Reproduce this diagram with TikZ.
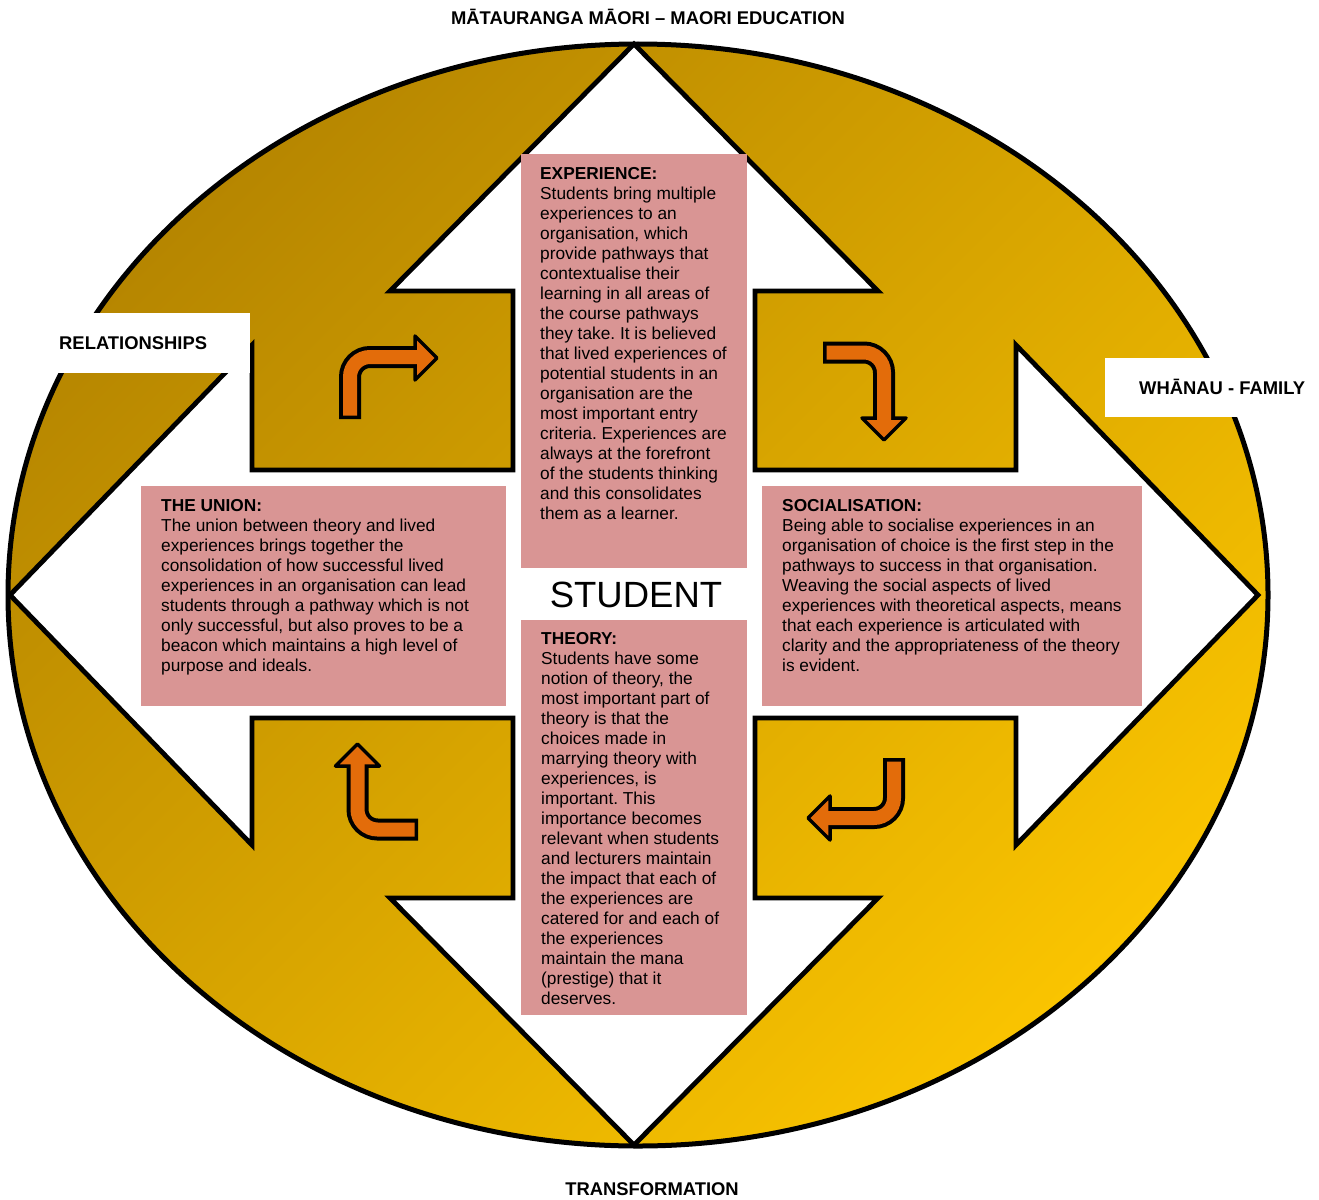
\documentclass[tikz,border=0pt]{standalone}
\usepackage{fontspec}
\setmainfont{Liberation Sans}
\frenchspacing
\definecolor{golddark}{RGB}{182,134,0}
\definecolor{goldlight}{RGB}{250,196,0}
\definecolor{notepink}{RGB}{217,149,148}
\definecolor{turnorange}{RGB}{227,108,10}

\begin{document}
\begin{tikzpicture}[x=1pt, y=-1pt,
    notebox/.style ={fill=notepink},
    notetext/.style ={anchor=north west, inner sep=0pt, align=left, font=\fontsize{17.3}{20}\selectfont},
    sidetag/.style ={fill=white, inner sep=0pt, anchor=north west},
    tagtext/.style ={anchor=base west, inner sep=0pt, font=\fontsize{18.4}{22}\selectfont\bfseries},
    turnshaft/.style ={draw=black, line width=22pt, rounded corners=20pt},
    turncore/.style ={draw=turnorange, line width=14pt, rounded corners=20pt},
    turnhead/.style ={fill=turnorange, draw=black, line width=3.5pt, line join=round}]
   \useasboundingbox (0,0) rectangle (1319,1199);

   % ring
   \shade[top color=golddark, bottom color=goldlight, shading angle=45]
     (638,595) ellipse [x radius=630pt, y radius=551pt];
   \draw[line width=5pt] (638,595) ellipse [x radius=630pt, y radius=551pt];

   % four-way arrow
   \filldraw[fill=white, line width=4.8pt] (634,44) -- (878,291) -- (755,291) -- (755,470)
     -- (1016,470) -- (1016,345) -- (1258,595) -- (1016,845) -- (1016,718) -- (755,718)
     -- (755,898) -- (878,898) -- (634,1145) -- (390,898) -- (513,898) -- (513,718)
     -- (252,718) -- (252,845) -- (10,595) -- (252,345) -- (252,470) -- (513,470)
     -- (513,291) -- (390,291) -- cycle;

   % turning arrows
   \draw[turnshaft] (350,419) -- (350,357) -- (418,357);
   \filldraw[turnhead] (415,336) -- (437,358) -- (415,380) -- cycle;
   \draw[turncore] (350,415.5) -- (350,357) -- (421,357);

   \draw[turnshaft] (823,352.5) -- (884,352.5) -- (884,421);
   \filldraw[turnhead] (862,418) -- (884,440) -- (906,418) -- cycle;
   \draw[turncore] (826.5,352.5) -- (884,352.5) -- (884,424);

   \draw[turnshaft] (894,758) -- (894,818) -- (827,818);
   \filldraw[turnhead] (830,796) -- (808,818) -- (830,840) -- cycle;
   \draw[turncore] (894,761.5) -- (894,818) -- (824,818);

   \draw[turnshaft] (418,829.5) -- (357.5,829.5) -- (357.5,763);
   \filldraw[turnhead] (335.5,766) -- (357.5,744) -- (379.5,766) -- cycle;
   \draw[turncore] (414.5,829.5) -- (357.5,829.5) -- (357.5,760);

   % notes
   \fill[notebox] (521,154) rectangle (747,568);
   \fill[notebox] (521,620) rectangle (747,1015);
   \fill[notebox] (141,486) rectangle (506,706);
   \fill[notebox] (762,486) rectangle (1142,706);

   \node[notetext] (experience) at (540,165) {\strut\textbf{EXPERIENCE:}\\
     Students bring multiple\\ experiences to an\\ organisation, which\\
     provide pathways that\\ contextualise their\\ learning in all areas of\\
     the course pathways\\ they take. It is believed\\ that lived experiences of\\
     potential students in an\\ organisation are the\\ most important entry\\
     criteria. Experiences are\\ always at the forefront\\ of the students thinking\\
     and this consolidates\\ them as a learner.};

   \node[notetext] (theory) at (541,630) {\strut\textbf{THEORY:}\\
     Students have some\\ notion of theory, the\\ most important part of\\
     theory is that the\\ choices made in\\ marrying theory with\\
     experiences, is\\ important. This\\ importance becomes\\
     relevant when students\\ and lecturers maintain\\ the impact that each of\\
     the experiences are\\ catered for and each of\\ the experiences\\
     maintain the mana\\ (prestige) that it\\ deserves.};

   \node[notetext] (union) at (161,497) {\strut\textbf{THE UNION:}\\
     The union between theory and lived\\ experiences brings together the\\
     consolidation of how successful lived\\ experiences in an organisation can lead\\
     students through a pathway which is not\\ only successful, but also proves to be a\\
     beacon which maintains a high level of\\ purpose and ideals.};

   \node[notetext] (social) at (782,497) {\strut\textbf{SOCIALISATION:}\\
     Being able to socialise experiences in an\\ organisation of choice is the first step in the\\
     pathways to success in that organisation.\\ Weaving the social aspects of lived\\
     experiences with theoretical aspects, means\\ that each experience is articulated with\\
     clarity and the appropriateness of the theory\\ is evident.};

   \node[anchor=base, inner sep=0pt, font=\fontsize{36.5}{40}\selectfont] (student) at (636,607) {STUDENT};

   % outer tags
   \node[sidetag, minimum width=200pt, minimum height=60pt] (relbox) at (50,313) {};
   \node[sidetag, minimum width=214pt, minimum height=59pt] (whanaubox) at (1105,358) {};
   \node[tagtext] (relations) at (59,349) {RELATIONSHIPS};
   \node[tagtext] (whanau) at (1139,394) {WHĀNAU - FAMILY};
   \node[tagtext, anchor=base] (maori) at (648,25) {MĀTAURANGA MĀORI – MAORI EDUCATION};
   \node[tagtext, anchor=base] (transform) at (652,1195) {TRANSFORMATION};
 \end{tikzpicture}
\end{document}
